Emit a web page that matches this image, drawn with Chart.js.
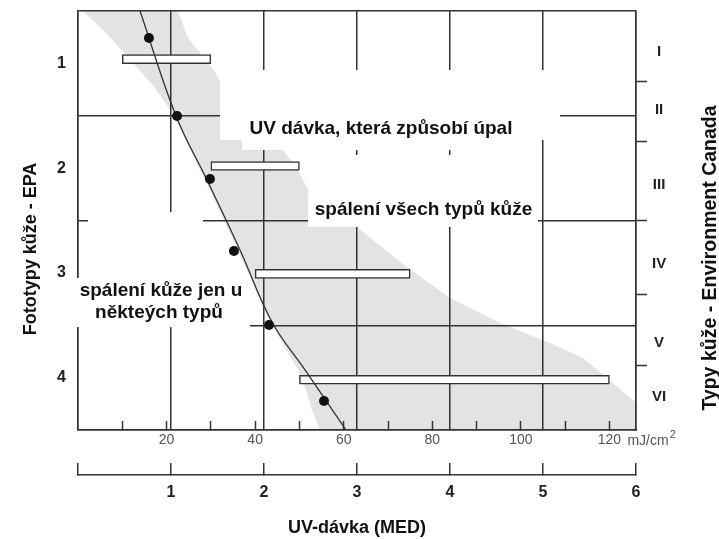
<!DOCTYPE html>
<html><head><meta charset="utf-8">
<script src="https://cdn.jsdelivr.net/npm/chart.js@4.4.0/dist/chart.umd.min.js"></script>
<style>html,body{margin:0;padding:0;background:#fff;}#wrap{width:719px;height:539px;}</style>
</head><body><div id="wrap"><canvas id="c" width="719" height="539"></canvas></div>
<script>
// ---------------- data ----------------
const medTicks = [0, 1, 2, 3, 4, 5, 6];
const mjTicks = [10, 20, 30, 40, 50, 60, 70, 80, 90, 100, 110, 120];
const epaTypes = ['1', '2', '3', '4'];
const epaCenters = [0.5, 1.5, 2.5, 3.5];
const canadaTypes = ['I', 'II', 'III', 'IV', 'V', 'VI'];
const canadaCenters = [0.391, 0.945, 1.661, 2.415, 3.17, 3.685];
const canadaBounds = [0.675, 1.248, 2.002, 2.711, 3.389];

// measured thresholds (MED vs. skin type position)
const pointMed = [0.763, 1.065, 1.419, 1.677, 2.054, 2.645];
const pointType = [0.258, 1.002, 1.604, 2.291, 2.998, 3.723];

// fitted curve
const curveMed = [0.667, 1.054, 1.387, 1.742, 2.086, 2.441, 2.882];
const curveType = [0, 1.002, 1.613, 2.282, 2.969, 3.427, 4.0];

// dose ranges (mJ/cm2) per EPA phototype
const barRow = [0.46, 1.48, 2.51, 3.52];
const barLow = [10, 30, 40, 50];
const barHigh = [30, 50, 75, 120];

// shaded band outline (MED, type position)
const bandMed = [1.075, 1.183, 1.333, 1.473, 1.581, 1.849, 2.204, 2.344, 2.495, 3.0, 3.462, 4.0, 4.538, 5.075, 5.43, 5.968, 6.0, 6.0,
                 2.602, 2.516, 2.409, 2.065, 1.72, 1.366, 1.022, 0.828, 0.613, 0.323, 0.054];
const bandType = [0, 0.258, 0.42, 0.582, 0.754, 1.088, 1.327, 1.489, 1.737, 2.062, 2.396, 2.74, 2.979, 3.169, 3.313, 3.714, 3.742, 4.0,
                  4.0, 3.809, 3.494, 2.969, 2.282, 1.613, 0.983, 0.735, 0.516, 0.229, 0];

// annotation texts
const noteTexts = ['UV dávka, která způsobí úpal', 'spálení všech typů kůže', 'spálení kůže jen u', 'někteých typů'];

// ---------------- layout of annotations (data units) ----------------
const notePos = [[3.258, 1.126], [3.715, 1.9], [0.892, 2.673], [0.871, 2.883]];
const whiteBoxes = [
  [1.527, 5.183, 0.563, 1.232],
  [1.763, 4.946, 1.232, 1.327],
  [2.602, 4.946, 1.375, 1.737],
  [2.473, 4.946, 1.737, 2.062],
  [-0.086, 1.849, 2.549, 3.017],
  [0.108, 1.344, 1.919, 2.549]
];

const INK = '#333';
const FONT = "'Liberation Sans', Arial, sans-serif";
Chart.defaults.font.family = FONT;

const notesPlugin = {
  id: 'notes',
  beforeDatasetsDraw(chart) {
    const { ctx, scales: { x, y } } = chart;
    ctx.save();
    ctx.fillStyle = '#fff';
    whiteBoxes.forEach(b => {
      const x0 = x.getPixelForValue(b[0]), x1 = x.getPixelForValue(b[1]);
      const y0 = y.getPixelForValue(b[2]), y1 = y.getPixelForValue(b[3]);
      ctx.fillRect(x0, y0, x1 - x0, y1 - y0);
    });
    ctx.fillStyle = '#111';
    ctx.font = 'bold 19px ' + FONT;
    ctx.textAlign = 'center';
    ctx.textBaseline = 'middle';
    noteTexts.forEach((t, i) => {
      ctx.fillText(t, x.getPixelForValue(notePos[i][0]), y.getPixelForValue(notePos[i][1]));
    });
    ctx.restore();
  },
  afterDraw(chart) {
    const { ctx, chartArea, scales: { y, mj } } = chart;
    ctx.save();
    ctx.fillStyle = '#111';
    ctx.textAlign = 'center';
    ctx.textBaseline = 'middle';
    // left title
    ctx.font = 'bold 18px ' + FONT;
    ctx.save();
    ctx.translate(chartArea.left - 47, y.getPixelForValue(2.272));
    ctx.rotate(-Math.PI / 2);
    ctx.fillText('Fototypy kůže - EPA', 0, 0);
    ctx.restore();
    // right title
    ctx.font = 'bold 19.5px ' + FONT;
    ctx.save();
    ctx.translate(chartArea.right + 75, y.getPixelForValue(2.358));
    ctx.rotate(-Math.PI / 2);
    ctx.fillText('Typy kůže - Environment Canada', 0, 0);
    ctx.restore();
    // unit
    ctx.fillStyle = '#555';
    ctx.font = '14px ' + FONT;
    ctx.textAlign = 'left';
    const ux = mj.getPixelForValue(120) + 18;
    const uy = chartArea.bottom + 11;
    ctx.fillText('mJ/cm', ux, uy);
    const w = ctx.measureText('mJ/cm').width;
    ctx.font = '11px ' + FONT;
    ctx.fillText('2', ux + w + 1, uy - 6);
    ctx.restore();
  }
};

const noPadV = s => { s.paddingTop = 0; s.paddingBottom = 0; };
const noPadH = s => { s.paddingLeft = 0; s.paddingRight = 0; };

new Chart(document.getElementById('c'), {
  type: 'scatter',
  data: {
    datasets: [
      {
        type: 'scatter', order: 0,
        data: pointMed.map((v, i) => ({ x: v, y: pointType[i] })),
        xAxisID: 'x', yAxisID: 'y',
        pointRadius: 5, pointBackgroundColor: '#111', pointBorderWidth: 0
      },
      {
        type: 'line', order: 1,
        data: curveMed.map((v, i) => ({ x: v, y: curveType[i] })),
        xAxisID: 'x', yAxisID: 'y',
        borderColor: INK, borderWidth: 1.3, pointRadius: 0, tension: 0.4, fill: false
      },
      {
        type: 'bar', order: 2, indexAxis: 'y',
        data: barRow.map((v, i) => ({ y: v, x: [barLow[i], barHigh[i]] })),
        xAxisID: 'mj', yAxisID: 'y',
        backgroundColor: '#fff', borderColor: INK, borderWidth: 1.5, borderSkipped: false,
        barThickness: 9, grouped: false
      },
      {
        type: 'line', order: 3,
        data: bandMed.map((v, i) => ({ x: v, y: bandType[i] })),
        xAxisID: 'x', yAxisID: 'y',
        fill: 'shape', backgroundColor: '#e3e3e3', borderWidth: 0, pointRadius: 0, tension: 0
      }
    ]
  },
  options: {
    responsive: false, animation: false, events: [],
    layout: { padding: { top: 11, left: 0, right: 0, bottom: 0 } },
    plugins: { legend: { display: false }, tooltip: { enabled: false }, filler: { drawTime: 'beforeDraw' } },
    scales: {
      mj: {
        type: 'linear', axis: 'x', position: 'bottom', weight: 0, min: 0, max: 126, offset: false,
        afterBuildTicks: s => { s.ticks = mjTicks.map(v => ({ value: v })); },
        afterFit: s => { s.height = 45; noPadH(s); },
        grid: { drawOnChartArea: false, drawTicks: true, tickLength: -9, tickColor: INK, tickWidth: 1.5 },
        border: { display: true, color: INK, width: 1.5 },
        ticks: { autoSkip: false, maxRotation: 0, padding: 11, color: '#555', font: { size: 14 },
                 callback: v => (v % 20 === 0 ? String(v) : '') }
      },
      x: {
        type: 'linear', axis: 'x', position: 'bottom', weight: 1, min: 0, max: 6, offset: false,
        afterBuildTicks: s => { s.ticks = medTicks.map(v => ({ value: v })); },
        afterFit: s => { s.height = 64; noPadH(s); },
        grid: { offset: false, color: INK, lineWidth: 1.5, drawTicks: true, tickLength: -12, tickColor: INK, tickWidth: 1.5 },
        border: { display: true, color: INK, width: 1.5 },
        ticks: { autoSkip: false, maxRotation: 0, padding: 20, color: '#222', font: { size: 16, weight: 'bold' },
                 callback: v => (v === 0 ? '' : String(v)) },
        title: { display: true, text: 'UV-dávka (MED)', color: '#111', font: { size: 18, weight: 'bold' }, padding: 0 }
      },
      y: {
        type: 'linear', axis: 'y', position: 'left', min: 0, max: 4, reverse: true, offset: false,
        afterBuildTicks: s => { s.ticks = epaCenters.map(v => ({ value: v })); },
        afterFit: s => { s.width = 78; noPadV(s); },
        grid: { offset: true, color: INK, lineWidth: 1.5, drawTicks: false },
        border: { display: true, color: INK, width: 1.5 },
        ticks: { padding: 12, color: '#222', font: { size: 16, weight: 'bold' },
                 callback: (v, i) => epaTypes[i] }
      },
      yr: {
        type: 'linear', axis: 'y', position: 'right', min: 0, max: 4, reverse: true, offset: false,
        afterBuildTicks: s => {
          s.ticks = canadaBounds.concat(canadaCenters).sort((a, b) => a - b).map(v => ({ value: v }));
        },
        afterFit: s => { s.width = 83; noPadV(s); },
        grid: { offset: false, drawOnChartArea: false, drawTicks: true, tickLength: 11, tickWidth: 1.5,
                tickColor: c => (c.tick && canadaBounds.includes(c.tick.value) ? INK : 'rgba(0,0,0,0)') },
        border: { display: true, color: INK, width: 1.5 },
        ticks: { autoSkip: false, padding: 5, crossAlign: 'center', color: '#222', font: { size: 15, weight: 'bold' },
                 callback: v => { const k = canadaCenters.indexOf(v); return k >= 0 ? canadaTypes[k] : ''; } }
      }
    }
  },
  plugins: [notesPlugin]
});
</script>
</body></html>
